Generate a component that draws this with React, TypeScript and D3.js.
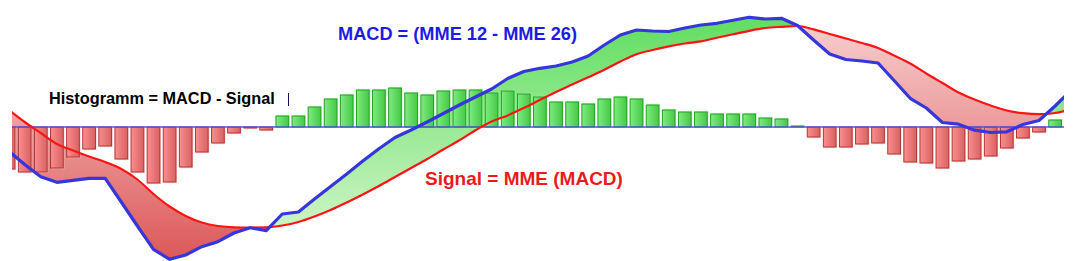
import React from "react";
import * as d3 from "d3";

// Histogram (MACD - Signal), one bar per period
const histogram: number[] = [
  -4.2, -4.5, -4.5, -4.1, -3.0, -2.2, -1.9, -3.2, -4.5, -5.6, -5.5, -4.0, -2.5, -1.6, -0.6, -0.1,
  -0.3, 1.1, 1.1, 2.0, 2.8, 3.2, 3.7, 3.7, 3.9, 3.4, 3.2, 3.6, 3.7, 3.7, 3.4, 3.6,
  3.3, 3.0, 2.5, 2.5, 2.3, 2.8, 3.0, 2.8, 2.2, 1.7, 1.5, 1.5, 1.3, 1.3, 1.3, 0.9,
  0.8, 0.1, -1.0, -2.0, -2.0, -1.7, -1.6, -2.7, -3.5, -3.6, -4.1, -3.4, -3.2, -2.9, -2.1, -1.1,
  -0.5, 0.7,
];

// MACD = MME 12 - MME 26
const macd: number[] = [
  -2.4, -3.75, -4.97, -5.53, -5.33, -5.13, -5.13, -7.5, -9.9, -12.23, -13.23, -12.8, -11.97, -11.47, -10.6, -10.07,
  -10.37, -8.7, -8.5, -7.2, -5.95, -4.7, -3.4, -2.17, -1.05, -0.3, 0.5, 1.35, 2.2, 3.0, 3.8, 4.85,
  5.55, 5.87, 6.1, 6.5, 7.1, 8.2, 9.2, 9.7, 9.6, 9.55, 9.9, 10.2, 10.37, 10.67, 10.97, 10.8,
  10.87, 10.15, 8.7, 7.3, 6.75, 6.6, 6.4, 4.65, 2.87, 1.9, 0.45, 0.28, -0.32, -0.55, -0.48, 0.25,
  0.65, 2.1, 3.7,
];

// Signal = MME (MACD)
const signal: number[] = [
  1.73, 0.5, -0.6, -1.7, -2.35, -2.95, -3.5, -4.2, -5.25, -6.7, -7.95, -8.9, -9.55, -9.9, -10.03, -10.05,
  -10.03, -9.85, -9.5, -8.95, -8.3, -7.55, -6.75, -5.9, -5.0, -4.1, -3.2, -2.25, -1.33, -0.33, 0.55, 1.16,
  1.9, 2.7, 3.5, 4.24, 4.97, 5.72, 6.55, 7.28, 7.7, 8.07, 8.35, 8.57, 8.92, 9.27, 9.62, 9.9,
  10.02, 10.1, 9.76, 9.3, 8.85, 8.4, 7.9, 7.15, 6.35, 5.35, 4.4, 3.45, 2.75, 2.15, 1.65, 1.38,
  1.28, 1.4, 1.8,
];

const labelMacd = "MACD = (MME 12 - MME 26)";
const labelHist = "Histogramm = MACD - Signal";
const labelSignal = "Signal = MME (MACD)";

const W = 1083;
const H = 261;
const plotLeft = 12;
const plotRight = 1064;

export default function App() {
  const x = d3.scaleLinear().domain([0, 65]).range([8.6, 1055.1]);
  const y = d3.scaleLinear().domain([-13.4, 12.7]).range([H, 0]);
  const barW = 12.7;

  const idx = macd.map((_, i) => i);

  const blueLine = d3
    .line<number>()
    .x((i) => x(i))
    .y((i) => y(macd[i]))
    .curve(d3.curveLinear)(idx)!;
  const redLine = d3
    .line<number>()
    .x((i) => x(i))
    .y((i) => y(signal[i]))
    .curve(d3.curveMonotoneX)(idx)!;

  const belowBlue = d3
    .area<number>()
    .x((i) => x(i))
    .y0(H)
    .y1((i) => y(macd[i]))
    .curve(d3.curveLinear)(idx)!;
  const aboveBlue = d3
    .area<number>()
    .x((i) => x(i))
    .y0(0)
    .y1((i) => y(macd[i]))
    .curve(d3.curveLinear)(idx)!;
  const aboveRed = d3
    .area<number>()
    .x((i) => x(i))
    .y0(0)
    .y1((i) => y(signal[i]))
    .curve(d3.curveMonotoneX)(idx)!;
  const belowRed = d3
    .area<number>()
    .x((i) => x(i))
    .y0(H)
    .y1((i) => y(signal[i]))
    .curve(d3.curveMonotoneX)(idx)!;

  const y0 = y(0);

  return (
    <svg
      width={W}
      height={H}
      style={{ position: "absolute", left: 0, top: 0, display: "block", background: "#fff" }}
    >
      <defs>
        <clipPath id="plot">
          <rect x={plotLeft} y={0} width={plotRight - plotLeft} height={H} />
        </clipPath>
        <clipPath id="clipAboveRed">
          <path d={aboveRed} />
        </clipPath>
        <clipPath id="clipBelowRed">
          <path d={belowRed} />
        </clipPath>
        <linearGradient id="gGreen" gradientUnits="userSpaceOnUse" x1="0" y1="20" x2="0" y2="235">
          <stop offset="0" stopColor="#62de62" />
          <stop offset="1" stopColor="#d0f5c8" />
        </linearGradient>
        <linearGradient id="gRed" gradientUnits="userSpaceOnUse" x1="0" y1="20" x2="0" y2="260">
          <stop offset="0" stopColor="#f8d0d0" />
          <stop offset="1" stopColor="#dc5858" />
        </linearGradient>
        <linearGradient id="barRed" x1="0" y1="0" x2="1" y2="0">
          <stop offset="0" stopColor="#fb8e8e" />
          <stop offset="1" stopColor="#d86262" />
        </linearGradient>
        <linearGradient id="barGreen" x1="0" y1="0" x2="1" y2="0">
          <stop offset="0" stopColor="#7eec7e" />
          <stop offset="1" stopColor="#46c846" />
        </linearGradient>
      </defs>

      <g clipPath="url(#plot)">
        {/* filled band between MACD and Signal */}
        <g clipPath="url(#clipAboveRed)">
          <path d={belowBlue} fill="url(#gGreen)" />
        </g>
        <g clipPath="url(#clipBelowRed)">
          <path d={aboveBlue} fill="url(#gRed)" />
        </g>

        {/* histogram bars */}
        {histogram.map((v, i) => {
          const yv = y(v);
          const top = Math.min(yv, y0);
          const h = Math.max(Math.abs(yv - y0), 0.8);
          const pos = v >= 0;
          return (
            <g key={i}>
              <rect
                x={x(i) - barW / 2 + 1.2}
                y={top + (pos ? -1.2 : 1.2)}
                width={barW}
                height={h}
                fill={pos ? "#b6ecb6" : "#f3c0c0"}
                opacity={0.7}
              />
              <rect
                x={x(i) - barW / 2}
                y={top}
                width={barW}
                height={h}
                fill={pos ? "url(#barGreen)" : "url(#barRed)"}
                stroke={pos ? "#22a222" : "#b43434"}
                strokeWidth={1}
              />
            </g>
          );
        })}

        {/* zero line */}
        <line x1={plotLeft} x2={plotRight} y1={y0} y2={y0} stroke="#5555cc" strokeWidth={1.5} />

        <path d={redLine} fill="none" stroke="#ff1414" strokeWidth={2.2} />
        <path d={blueLine} fill="none" stroke="#3636dc" strokeWidth={3.2} strokeLinejoin="round" />
      </g>

      <text
        x={338}
        y={39.5}
        fontFamily="'Liberation Sans', Arial, sans-serif"
        fontWeight="bold"
        fontSize={18.2}
        fill="#1c1ce6"
      >
        {labelMacd}
      </text>
      <text
        x={49}
        y={104}
        fontFamily="'Liberation Sans', Arial, sans-serif"
        fontWeight="bold"
        fontSize={16.3}
        fill="#000"
      >
        {labelHist}
      </text>
      <line x1={288.5} x2={288.5} y1={93} y2={106} stroke="#101060" strokeWidth={1} />
      <text
        x={425}
        y={185}
        fontFamily="'Liberation Sans', Arial, sans-serif"
        fontWeight="bold"
        fontSize={19}
        fill="#e81c1c"
      >
        {labelSignal}
      </text>
    </svg>
  );
}
